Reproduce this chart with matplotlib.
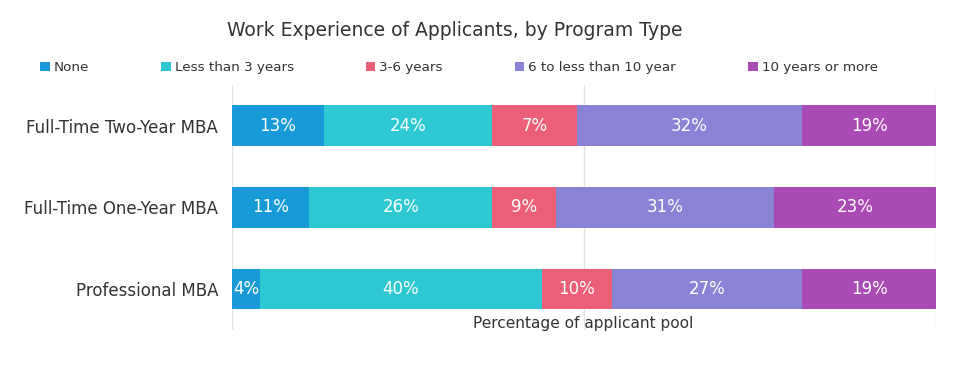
import numpy as np
import matplotlib.pyplot as plt

# data
programs = ['Full-Time Two-Year MBA', 'Full-Time One-Year MBA', 'Professional MBA']
categories = ['None', 'Less than 3 years', '3-6 years', '6 to less than 10 year', '10 years or more']
# segment widths as drawn (percent of applicant pool)
none_vals = [13, 11, 4]
lt3_vals = [24, 26, 40]
y36_vals = [12, 9, 10]
y610_vals = [32, 31, 27]
y10_vals = [19, 23, 19]
# labels printed in the segments
none_lbl = ['13%', '11%', '4%']
lt3_lbl = ['24%', '26%', '40%']
y36_lbl = ['7%', '9%', '10%']
y610_lbl = ['32%', '31%', '27%']
y10_lbl = ['19%', '23%', '19%']

colors = ['#179ad7', '#2ec8d2', '#eb5f78', '#8a83d5', '#aa4ab5']

series = [none_vals, lt3_vals, y36_vals, y610_vals, y10_vals]
labels = [none_lbl, lt3_lbl, y36_lbl, y610_lbl, y10_lbl]

fig = plt.figure(figsize=(9.58, 3.71), dpi=100)
ax = fig.add_axes([0.2422, 0.111, 0.7348, 0.66])

y = np.arange(len(programs))
left = np.zeros(len(programs))
for vals, lbls, col, name in zip(series, labels, colors, categories):
    vals = np.array(vals, dtype=float)
    ax.barh(y, vals, left=left, height=0.5, color=col, label=name, zorder=2)
    for yi, l, v, t in zip(y, left, vals, lbls):
        ax.text(l + v / 2, yi, t, ha='center', va='center', color='white', fontsize=12, zorder=3)
    left = left + vals

ax.set_xlim(0, 100)
ax.set_ylim(2.5, -0.5)
ax.set_yticks(y)
ax.set_yticklabels(programs, fontsize=12, color='#333333')
ax.set_xticks([0, 50, 100])
ax.set_xticklabels([])
ax.tick_params(length=0, pad=17)
ax.tick_params(axis='y', pad=10)
ax.grid(axis='x', color='#e3e3e3', linewidth=1, zorder=0)
for s in ax.spines.values():
    s.set_visible(False)

fig.text(0.609, 0.129, 'Percentage of applicant pool', ha='center', va='center', fontsize=11.1, color='#333333')
fig.text(0.475, 0.918, 'Work Experience of Applicants, by Program Type', ha='center', va='center',
         fontsize=13.5, color='#333333')

fig.legend(loc='center left', bbox_to_anchor=(0.042, 0.817), ncol=5, frameon=False, fontsize=9.7,
           handlelength=0.7, handleheight=0.7, handletextpad=0.3, columnspacing=5.35,
           labelcolor='#333333', borderaxespad=0, borderpad=0)

fig.savefig('out.png', dpi=100)
